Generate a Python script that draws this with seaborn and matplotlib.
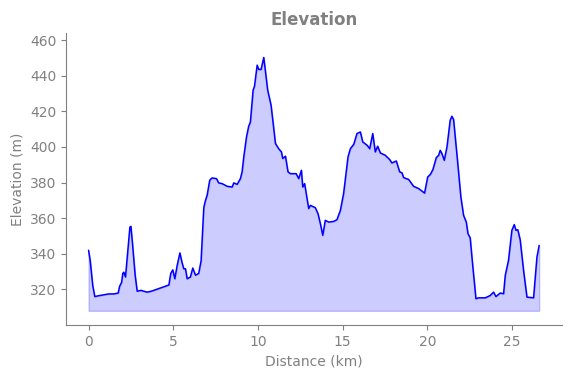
import matplotlib
matplotlib.use("Agg")
import matplotlib.pyplot as plt
import numpy as np
import pandas as pd
import seaborn as sns

# values
distance_km = [
    0.0, 0.1, 0.25, 0.37, 0.6, 0.9, 1.2, 1.5, 1.75, 1.83, 1.95, 2.02, 2.08, 2.18,
    2.3, 2.44, 2.5, 2.6, 2.75, 2.87, 3.1, 3.26, 3.46, 3.7, 4.0, 4.3, 4.6, 4.74,
    4.85, 4.97, 5.09, 5.23, 5.39, 5.52, 5.62, 5.72, 5.82, 6.01, 6.15, 6.31, 6.5,
    6.64, 6.8, 6.9, 7.0, 7.15, 7.29, 7.55, 7.68, 7.88, 8.18, 8.47, 8.57, 8.77,
    8.96, 9.06, 9.16, 9.32, 9.45, 9.55, 9.71, 9.79, 9.95, 10.04, 10.18, 10.34,
    10.57, 10.77, 11.03, 11.22, 11.38, 11.46, 11.62, 11.77, 11.91, 12.25, 12.4,
    12.56, 12.64, 12.75, 12.99, 13.09, 13.38, 13.54, 13.68, 13.82, 13.97, 14.17,
    14.47, 14.66, 14.86, 15.05, 15.31, 15.45, 15.65, 15.84, 16.04, 16.18, 16.44,
    16.59, 16.77, 16.92, 17.06, 17.22, 17.51, 17.77, 17.9, 18.16, 18.36, 18.5,
    18.59, 18.89, 19.18, 19.48, 19.83, 20.01, 20.17, 20.32, 20.52, 20.66, 20.75,
    20.85, 20.99, 21.15, 21.34, 21.44, 21.54, 21.77, 21.97, 22.13, 22.29, 22.39,
    22.52, 22.66, 22.86, 23.01, 23.41, 23.7, 23.9, 24.04, 24.29, 24.49, 24.59,
    24.78, 24.98, 25.12, 25.22, 25.33, 25.47, 25.67, 25.87, 26.26, 26.46, 26.59,
]
elevation_m = [
    342, 336, 322, 316, 316.5, 317, 317.5, 317.5, 318, 321.7, 324, 329, 329.7, 327,
    340, 355, 355.4, 345, 328, 319, 319.5, 319, 318.5, 319, 320, 321, 322, 322.5,
    329, 331, 326, 333.5, 340.5, 335, 331.6, 331.6, 326, 327, 332, 328, 329,
    336, 366, 370, 373, 381.3, 382.6, 382.2, 379.8, 379.4, 377.9, 377.5, 379.8, 379,
    382.2, 386, 394.4, 405.6, 411.6, 414, 431.9, 434, 445.9, 443.5, 443.5, 450.2,
    431.9, 423.4, 401.9, 399, 397.2, 393.5, 394.8, 386, 385, 385, 382.2,
    386.9, 377.5, 379.4, 365.4, 367.2, 365.9, 362.5, 356.9, 350.4, 358.8, 357.8,
    358.2, 359.2, 364.4, 373.8, 394.4, 399, 401.5, 407.5, 408.4, 402.8, 400.9,
    399, 407.5, 397.2, 400.4, 396.6, 395.3, 392.9, 391, 392.1, 386, 385.4,
    382.8, 381.7, 377.9, 376.6, 374.1, 383.1, 384.6, 387.3, 394, 395.3, 398.1,
    396.3, 392.5, 400, 415, 417.2, 415.4, 392.5, 371.9, 361.6, 357.8, 351.3,
    349, 334.4, 314.8, 315.3, 315.3, 316.6, 318.5, 316, 318, 317.6, 327.9,
    336.3, 353.2, 356.4, 353.2, 353.5, 347.9, 330.7, 315.7, 315.3, 338.2, 344.7,
]
baseline_m = 308

df = pd.DataFrame({"distance": distance_km, "elevation": elevation_m})

sns.set_style("ticks")
plt.rcParams["font.family"] = ["DejaVu Sans"]
grey = "#808080"

fig = plt.figure(figsize=(5.71, 3.78), dpi=100)
ax = fig.add_axes([0.1156, 0.140, 0.8684, 0.773])

ax.fill_between(df["distance"], df["elevation"], baseline_m, color="blue", alpha=0.2)
sns.lineplot(data=df, x="distance", y="elevation", color="blue", lw=1.1, ax=ax)

ax.set_xlim(-1.33, 27.93)
ax.set_ylim(300, 464)
ax.set_yticks(np.arange(320, 461, 20))
ax.set_xticks(np.arange(0, 26, 5))
ax.set_title("Elevation", color=grey, fontsize=12, fontweight="bold")
ax.set_xlabel("Distance (km)", color=grey, fontsize=10)
ax.set_ylabel("Elevation (m)", color=grey, fontsize=10)
ax.tick_params(colors=grey, labelcolor=grey, labelsize=10)
for s in ("left", "bottom"):
    ax.spines[s].set_color(grey)
sns.despine(ax=ax)

plt.savefig("out.png", dpi=100)
plt.close()
